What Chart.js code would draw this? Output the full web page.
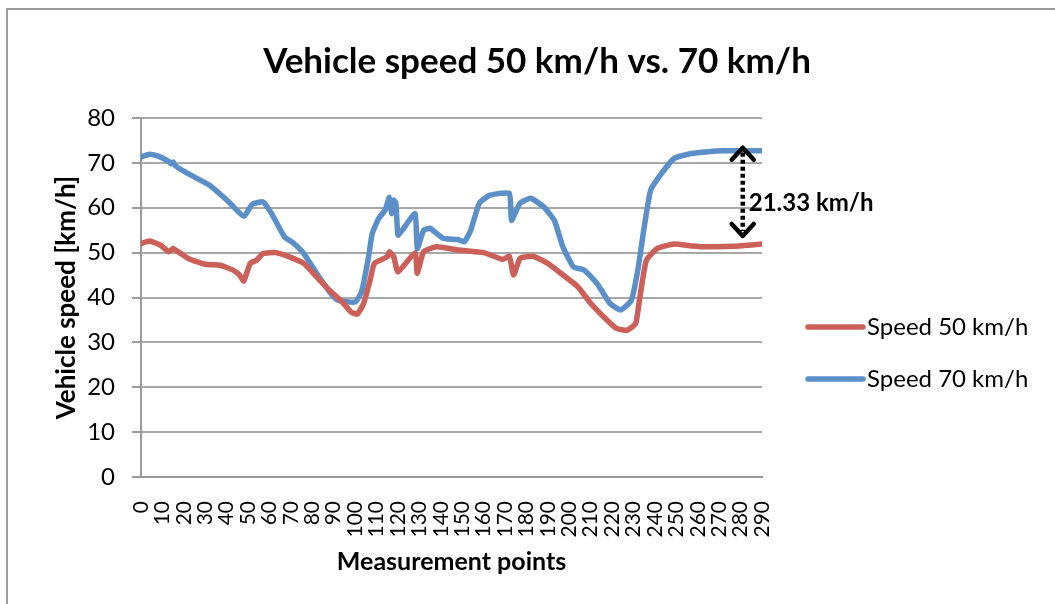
<!DOCTYPE html>
<html lang="en">
<head>
    <meta charset="UTF-8">
    <title>Vehicle speed 50 km/h vs. 70 km/h</title>
    <script src="https://cdn.jsdelivr.net/npm/chart.js"></script>
    <style>
        html, body {
            margin: 0;
            padding: 0;
            background: #ffffff;
            overflow: hidden;
        }
        .frame {
            position: absolute;
            left: 6px;
            top: 8px;
            width: 1200px;
            height: 800px;
            border: 2px solid #9b9b9b;
            pointer-events: none;
        }
        .chart-box {
            position: absolute;
            left: 0;
            top: 0;
            width: 1055px;
            height: 604px;
        }
    </style>
</head>
<body>
    <div class="chart-box"><canvas id="speedChart"></canvas></div>
    <div class="frame"></div>

    <script>
        const points50 = [0, 4, 9, 13, 15, 22, 30, 37, 43, 46, 48, 51, 54, 57, 63, 69, 76, 82, 88, 94,
            98, 101, 104, 107, 109, 115, 116, 118, 120, 128, 129, 132, 138, 148, 160, 169, 172, 174, 177, 183,
            190, 196, 204, 210, 216, 222, 227, 231, 233, 236, 241, 249, 257, 265, 277, 290];
        const speed50 = [52.0, 52.6, 51.7, 50.2, 50.9, 48.7, 47.4, 47.2, 46.1, 45.0, 43.7, 47.6, 48.3, 49.8, 50.0, 49.1, 47.6, 44.6, 41.6, 39.0,
            36.8, 36.3, 38.7, 43.9, 47.6, 49.1, 50.2, 49.1, 45.7, 50.0, 45.4, 50.2, 51.3, 50.6, 50.0, 48.5, 49.2, 45.0, 48.7, 49.2,
            47.6, 45.4, 42.4, 38.7, 35.7, 33.1, 32.7, 34.2, 40.2, 48.3, 50.9, 51.9, 51.5, 51.3, 51.4, 51.9];

        const points70 = [0, 4, 8, 13, 14, 15, 16, 22, 32, 41, 48, 52, 57, 61, 67, 71, 76, 82, 88, 92,
            100, 103, 106, 108, 111, 114, 116, 117, 118, 119, 120, 122, 128, 129, 132, 135, 141, 148, 151, 154,
            158, 163, 172, 173, 177, 182, 188, 193, 197, 202, 207, 213, 219, 224, 229, 232, 235, 238, 243, 249,
            257, 265, 272, 290];
        const speed70 = [71.3, 71.9, 71.5, 70.3, 69.8, 70.2, 69.4, 67.6, 65.0, 61.3, 58.1, 60.8, 61.3, 58.7, 53.5, 52.2, 49.8, 45.4, 41.3, 39.4,
            39.0, 41.3, 48.3, 54.3, 57.6, 59.5, 62.3, 58.7, 61.7, 61.0, 53.9, 55.0, 58.7, 50.9, 55.0, 55.4, 53.2, 52.9, 52.4, 55.0,
            61.0, 62.8, 63.2, 57.2, 61.0, 62.1, 60.2, 57.2, 51.3, 46.8, 46.1, 43.1, 38.7, 37.2, 39.4, 46.1, 55.7, 63.9, 67.6, 71.0,
            72.1, 72.5, 72.7, 72.7];

        const xTicks = [0, 10, 20, 30, 40, 50, 60, 70, 80, 90, 100, 110, 120, 130, 140,
            150, 160, 170, 180, 190, 200, 210, 220, 230, 240, 250, 260, 270, 280, 290];

        const seriesNames = ['Speed 50 km/h', 'Speed 70 km/h'];
        const seriesColors = ['#cc5f58', '#5b8fc9'];

        // difference marker at the end of the run
        const gapAt = 281;
        const gapTop = 73.6;
        const gapBottom = 53.5;
        const gapLabel = '21.33 km/h';

        const toXY = (xs, ys) => xs.map((x, i) => ({ x: x, y: ys[i] }));

        // legend drawn on the right, Excel style
        const sideLegend = {
            id: 'sideLegend',
            afterDraw(chart) {
                const ctx = chart.ctx;
                const area = chart.chartArea;
                const x0 = area.right + 46;
                ctx.save();
                ctx.font = '24px Lato';
                ctx.textBaseline = 'middle';
                ctx.textAlign = 'left';
                chart.data.datasets.forEach((ds, i) => {
                    const y = area.top + 209 + i * 52;
                    ctx.strokeStyle = ds.borderColor;
                    ctx.lineWidth = 5.5;
                    ctx.lineCap = 'round';
                    ctx.beginPath();
                    ctx.moveTo(x0, y);
                    ctx.lineTo(x0 + 55, y);
                    ctx.stroke();
                    ctx.fillStyle = '#000000';
                    ctx.fillText(ds.label, x0 + 59, y);
                });
                ctx.restore();
            }
        };

        const gapArrow = {
            id: 'gapArrow',
            afterDatasetsDraw(chart) {
                const ctx = chart.ctx;
                const xs = chart.scales.x;
                const ys = chart.scales.y;
                const x = xs.getPixelForValue(gapAt);
                const yTop = ys.getPixelForValue(gapTop);
                const yBot = ys.getPixelForValue(gapBottom);
                ctx.save();
                ctx.strokeStyle = '#000000';
                ctx.lineWidth = 4.5;
                ctx.setLineDash([4, 3]);
                ctx.beginPath();
                ctx.moveTo(x, yTop + 6);
                ctx.lineTo(x, yBot - 6);
                ctx.stroke();
                ctx.setLineDash([]);
                ctx.lineCap = 'round';
                ctx.lineJoin = 'round';
                ctx.beginPath();
                ctx.moveTo(x - 11, yTop + 13);
                ctx.lineTo(x, yTop + 1);
                ctx.lineTo(x + 11, yTop + 13);
                ctx.moveTo(x - 11, yBot - 13);
                ctx.lineTo(x, yBot - 1);
                ctx.lineTo(x + 11, yBot - 13);
                ctx.stroke();
                ctx.font = 'bold 24px Lato';
                ctx.fillStyle = '#000000';
                ctx.textBaseline = 'middle';
                ctx.textAlign = 'left';
                ctx.fillText(gapLabel, x + 6, (yTop + yBot) / 2 + 11);
                ctx.restore();
            }
        };

        const ctx = document.getElementById('speedChart').getContext('2d');
        new Chart(ctx, {
            type: 'line',
            data: {
                datasets: [
                    {
                        label: seriesNames[0],
                        data: toXY(points50, speed50),
                        borderColor: seriesColors[0],
                        backgroundColor: seriesColors[0],
                        borderWidth: 5.5,
                        pointRadius: 0,
                        tension: 0.15,
                        borderCapStyle: 'round',
                        borderJoinStyle: 'round',
                        fill: false
                    },
                    {
                        label: seriesNames[1],
                        data: toXY(points70, speed70),
                        borderColor: seriesColors[1],
                        backgroundColor: seriesColors[1],
                        borderWidth: 5.5,
                        pointRadius: 0,
                        tension: 0.15,
                        borderCapStyle: 'round',
                        borderJoinStyle: 'round',
                        fill: false
                    }
                ]
            },
            options: {
                responsive: true,
                maintainAspectRatio: false,
                animation: false,
                layout: {
                    padding: { left: 19, right: 0, top: 0, bottom: 24 }
                },
                plugins: {
                    legend: { display: false },
                    tooltip: { enabled: false },
                    title: {
                        display: true,
                        text: 'Vehicle speed 50 km/h vs. 70 km/h',
                        color: '#000000',
                        font: { family: 'Lato', size: 35, weight: 'bold' },
                        padding: { top: 41, bottom: 35 }
                    }
                },
                scales: {
                    x: {
                        type: 'linear',
                        min: 0,
                        max: 290,
                        afterBuildTicks: (scale) => {
                            scale.ticks = xTicks.map(v => ({ value: v }));
                        },
                        afterFit: (scale) => { scale.height = 103; },
                        grid: { display: false, drawTicks: false },
                        border: { display: true, color: '#9a9a9a', width: 2 },
                        ticks: {
                            color: '#000000',
                            font: { family: 'Lato', size: 21 },
                            minRotation: 90,
                            maxRotation: 90,
                            padding: 24,
                            autoSkip: false
                        },
                        title: {
                            display: true,
                            text: 'Measurement points',
                            color: '#000000',
                            font: { family: 'Lato', size: 25, weight: 'bold' },
                            padding: { top: 10, bottom: 3 }
                        }
                    },
                    y: {
                        min: 0,
                        max: 80,
                        afterFit: (scale) => { scale.width = 122; },
                        ticks: {
                            stepSize: 10,
                            color: '#000000',
                            font: { family: 'Lato', size: 24 },
                            padding: 17
                        },
                        grid: {
                            color: '#a8a8a8',
                            lineWidth: 2,
                            tickLength: 9,
                            tickColor: '#9a9a9a'
                        },
                        border: { display: true, color: '#9a9a9a', width: 2 },
                        title: {
                            display: true,
                            text: 'Vehicle speed [km/h]',
                            color: '#000000',
                            font: { family: 'Lato', size: 26, weight: 'bold' },
                            padding: { top: 32, bottom: 0 }
                        }
                    },
                    // empty axis that keeps room for the legend
                    side: {
                        position: 'right',
                        display: true,
                        afterFit: (scale) => { scale.width = 293; },
                        grid: { display: false, drawTicks: false },
                        border: { display: false },
                        ticks: { display: false }
                    }
                }
            },
            plugins: [gapArrow, sideLegend]
        });
    </script>
</body>
</html>
